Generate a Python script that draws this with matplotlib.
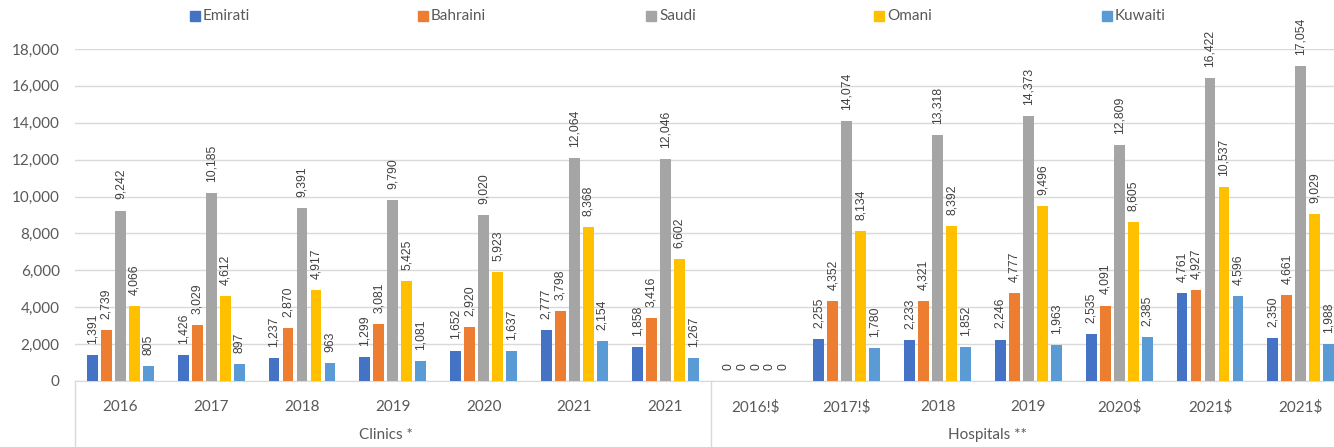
import numpy as np
import matplotlib
matplotlib.use('Agg')
import matplotlib.pyplot as plt
from matplotlib.patches import Rectangle
from matplotlib.ticker import FuncFormatter

categories = ['2016', '2017', '2018', '2019', '2020', '2021', '2021',
              '2016!$', '2017!$', '2018', '2019', '2020$', '2021$', '2021$']
groups = ['Clinics *', 'Hospitals **']
series = ['Emirati', 'Bahraini', 'Saudi', 'Omani', 'Kuwaiti']

emirati = [1391, 1426, 1237, 1299, 1652, 2777, 1858,
           0, 2255, 2233, 2246, 2535, 4761, 2350]
bahraini = [2739, 3029, 2870, 3081, 2920, 3798, 3416,
            0, 4352, 4321, 4777, 4091, 4927, 4661]
saudi = [9242, 10185, 9391, 9790, 9020, 12064, 12046,
         0, 14074, 13318, 14373, 12809, 16422, 17054]
omani = [4066, 4612, 4917, 5425, 5923, 8368, 6602,
         0, 8134, 8392, 9496, 8605, 10537, 9029]
kuwaiti = [805, 897, 963, 1081, 1637, 2154, 1267,
           0, 1780, 1852, 1963, 2385, 4596, 1988]

colors = ['#4472C4', '#ED7D31', '#A5A5A5', '#FFC000', '#5B9BD5']
values = [emirati, bahraini, saudi, omani, kuwaiti]

grey = '#595959'
plt.rcParams['font.family'] = ['Lato', 'DejaVu Sans']

W, H = 1334, 447
fig = plt.figure(figsize=(W / 100, H / 100), dpi=100)
# plot area runs past the right edge, as in the cropped original
ax = fig.add_axes([75 / W, 66 / H, 14 * 90.8 / W, 332 / H])

x = np.arange(len(categories))
pitch = 0.154
bw = 0.118
for i, (name, vals, c) in enumerate(zip(series, values, colors)):
    pos = x + (i - 2) * pitch
    ax.bar(pos, vals, width=bw, color=c, zorder=3)
    for xp, v in zip(pos, vals):
        ax.annotate(f'{v:,}', (xp, v), xytext=(0, 8), textcoords='offset points',
                    rotation=90, ha='center', va='bottom', fontsize=8.8,
                    color='#404040', family='Liberation Sans')

ax.set_xlim(-0.5, len(categories) - 0.5)
ax.set_ylim(0, 18000)
ax.set_yticks(np.arange(0, 18001, 2000))
ax.yaxis.set_major_formatter(FuncFormatter(lambda v, p: f'{int(v):,}'))
ax.grid(axis='y', color='#D9D9D9', linewidth=1, zorder=0)
ax.set_xticks(x)
ax.set_xticklabels(categories)
ax.tick_params(axis='both', length=0, colors=grey, labelsize=11)
ax.tick_params(axis='x', pad=14)
ax.tick_params(axis='y', pad=11)
for s in ['top', 'right', 'left']:
    ax.spines[s].set_visible(False)
ax.spines['bottom'].set_color('#D9D9D9')

# group separators and labels
for xs in [-0.5, 6.5, 13.5]:
    ax.plot([xs, xs], [0, -0.2], transform=ax.get_xaxis_transform(),
            color='#D9D9D9', linewidth=1, clip_on=False)
ax.text(2.92, -0.163, groups[0], transform=ax.get_xaxis_transform(),
        ha='center', va='center', fontsize=11, color=grey)
ax.text(9.55, -0.163, groups[1], transform=ax.get_xaxis_transform(),
        ha='center', va='center', fontsize=11, color=grey)

# legend drawn by hand to keep equal spacing
for i, (name, c) in enumerate(zip(series, colors)):
    lx = 190 + i * 228
    fig.add_artist(Rectangle((lx / W, 1 - 21 / H), 10 / W, 10 / H,
                             color=c, transform=fig.transFigure))
    fig.text((lx + 13) / W, 1 - 16 / H, name, ha='left', va='center',
             fontsize=11, color=grey)

fig.savefig('out.png', dpi=100)
